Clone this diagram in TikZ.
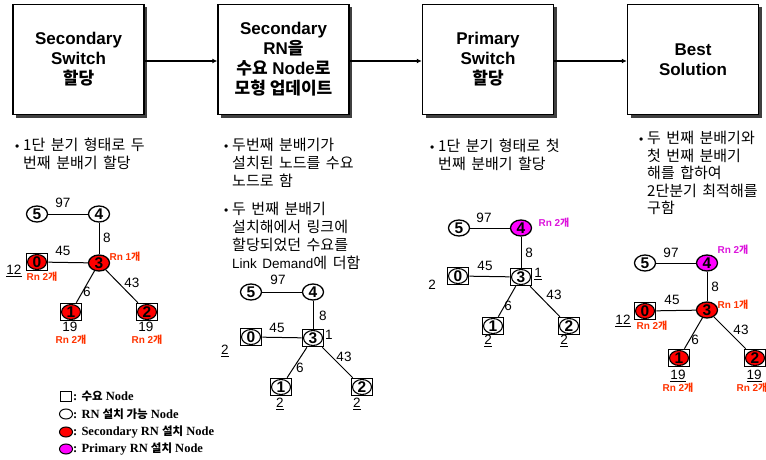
\documentclass[tikz,border=0pt]{standalone}
\usepackage{fontspec}
\setmainfont{Liberation Sans}
\newfontfamily\kr{Noto Sans CJK KR}
\newfontfamily\ser{Liberation Serif}
\usetikzlibrary{shapes.geometric,arrows.meta,shadows}
\newcommand\K[1]{{\kr #1}}
\newcommand\Bul{\makebox[8pt][l]{\rmfamily\fontsize{12}{12}\selectfont •}}
\newcommand\widesp{\spaceskip 5.5pt\relax}
\newcommand\btfont{\kr\fontsize{15}{18}\selectfont\widesp}
\newcommand\btfontb{\kr\fontsize{15}{17.5}\selectfont\widesp}
\definecolor{rnred}{RGB}{255,51,0}
\definecolor{rnmag}{RGB}{220,20,220}
\definecolor{pmag}{RGB}{255,0,255}
\begin{document}
\begin{tikzpicture}[x=1pt,y=-1pt,
  box/.style={draw, line width=1.5pt, fill=white, minimum width=131pt, minimum height=110pt, inner sep=0pt, align=center,
    font=\bfseries\fontsize{17}{20}\selectfont,
    drop shadow={shadow xshift=3pt, shadow yshift=-3pt, fill=black!75, opacity=1}},
  arr/.style={line width=1.5pt, -{Latex[length=5pt,width=5pt]}},
  el/.style={ellipse, draw, line width=1.3pt, minimum width=21pt, minimum height=16pt, inner sep=0pt,
    text height=10pt, text depth=0pt, font=\bfseries\fontsize{15.5}{15.5}\selectfont},
  eli/.style={el, minimum width=19pt, minimum height=15pt, line width=1.1pt},
  sq/.style={rectangle, draw, line width=1.6pt, minimum width=21pt, minimum height=17pt, inner sep=0pt},
  edge/.style={line width=1pt},
  lab/.style={inner sep=0pt, font=\fontsize{13.5}{13.5}\selectfont},
  rn/.style={inner sep=0pt, text=rnred, font=\bfseries\fontsize{10}{10}\selectfont},
  rnm/.style={rn, text=rnmag},
  btxt/.style={anchor=north west, align=left, inner sep=0pt, font=\btfont},
  legt/.style={anchor=west, inner sep=0pt, font=\ser\bfseries\fontsize{12.5}{12.5}\selectfont},
  lgs/.style={draw, line width=1pt, inner sep=0pt}
]
\useasboundingbox (0,0) rectangle (766,460);

% ---------- top boxes ----------
\node[box] (b1) at (78.5,59.5) {Secondary\\Switch\\\K{할당}};
\node[box] (b2) at (283.5,59.5) {Secondary\\RN\K{을}\\\K{수요} Node\K{로}\\\K{모형 업데이트}};
\node[box] (b3) at (488,59.5) {Primary\\Switch\\\K{할당}};
\node[box] (b4) at (693,59.5) {Best\\Solution};
\draw[arr] ([yshift=-1.5pt]b1.east) -- ([yshift=-1.5pt]b2.west);
\draw[arr] ([yshift=-1.5pt]b2.east) -- ([yshift=-1.5pt]b3.west);
\draw[arr] ([yshift=-1.5pt]b3.east) -- ([yshift=-1.5pt]b4.west);

% ---------- bullet texts ----------
\node[btxt] (t1) at (15,138) {\Bul 1단 분기 형태로 두\\\hspace*{8pt}번째 분배기 할당};
\node[btxt] (t2) at (224,138) {\Bul 두번째 분배기가\\\hspace*{8pt}설치된 노드를 수요\\\hspace*{8pt}노드로 함};
\node[btxt] (t3) at (224,202) {\Bul 두 번째 분배기\\\hspace*{8pt}설치해에서 링크에\\\hspace*{8pt}할당되었던 수요를\\\hspace*{8pt}{\rmfamily\fontsize{13.5}{18}\selectfont Link Demand}에 더함};
\node[btxt] (t4) at (430,139) {\Bul 1단 분기 형태로 첫\\\hspace*{8pt}번째 분배기 할당};
\node[btxt, font=\btfontb] (t5) at (639,131) {\Bul 두 번째 분배기와\\\hspace*{8pt}첫 번째 분배기\\\hspace*{8pt}해를 합하여\\\hspace*{8pt}2단분기 최적해를\\\hspace*{8pt}구함};

% ---------- panel 1 ----------
\node[el] (a5) at (37,214) {5};
\node[el] (a4) at (99,214) {4};
\node[el, fill=red] (a3) at (99,263) {3};
\node[sq] (a0) at (37,262) {};
\node[sq] (a1) at (71,312) {};
\node[sq] (a2) at (147,312) {};
\draw[edge] (a5) -- (a4);
\draw[edge] (a4) -- (a3);
\draw[edge] (a0) -- (a3);
\draw[edge] (a3) -- (a1);
\draw[edge] (a3) -- (a2);
\node[eli, fill=red] (a0e) at (a0) {0};
\node[eli, fill=red] (a1e) at (a1) {1};
\node[eli, fill=red] (a2e) at (a2) {2};
\node[lab] (a97) at (63,203) {97};
\node[lab] (a8) at (107,238) {8};
\node[lab] (a45) at (63,251) {45};
\node[lab] (a6) at (87,292) {6};
\node[lab] (a43) at (132,283) {43};
\node[rn] (ar3) at (125,257) {Rn 1\K{개}};
\node[lab] (ad0) at (14,271) {\underline{12}};
\node[rn] (ar0) at (42,277) {Rn 2\K{개}};
\node[lab] (ad1) at (70,327) {19};
\node[lab] (ad2) at (146,327) {19};
\node[rn] (ar1) at (71,340) {Rn 2\K{개}};
\node[rn] (ar2) at (147,340) {Rn 2\K{개}};

% ---------- panel 2 ----------
\node[el] (p5) at (251,292) {5};
\node[el] (p4) at (313,292) {4};
\node[sq] (p3) at (313,338) {};
\node[sq] (p0) at (251,337) {};
\node[sq] (p1) at (281,387) {};
\node[sq] (p2) at (362,387) {};
\draw[edge] (p5) -- (p4);
\draw[edge] (p4) -- (p3);
\draw[edge] (p0) -- (p3);
\draw[edge] (p3) -- (p1);
\draw[edge] (p3) -- (p2);
\node[eli, fill=white] (p3e) at (p3) {3};
\node[eli, fill=white] (p0e) at (p0) {0};
\node[eli, fill=white] (p1e) at (p1) {1};
\node[eli, fill=white] (p2e) at (p2) {2};
\node[lab] (p97) at (278,280) {97};
\node[lab] (p8) at (323,316) {8};
\node[lab] (p45) at (277,328) {45};
\node[lab] (p1l) at (329,335) {1};
\node[lab] (pd0) at (225,351) {\underline{2}};
\node[lab] (p6) at (300,368) {6};
\node[lab] (p43) at (344,357) {43};
\node[lab] (pd1) at (280,404) {\underline{2}};
\node[lab] (pd2) at (357,404) {\underline{2}};

% ---------- panel 3 ----------
\node[el] (c5) at (459,228) {5};
\node[el, fill=pmag] (c4) at (521,228) {4};
\node[sq] (c3) at (521,277) {};
\node[sq] (c0) at (458,276) {};
\node[sq] (c1) at (493,326) {};
\node[sq] (c2) at (569,326) {};
\draw[edge] (c5) -- (c4);
\draw[edge] (c4) -- (c3);
\draw[edge] (c0) -- (c3);
\draw[edge] (c3) -- (c1);
\draw[edge] (c3) -- (c2);
\node[eli, fill=white] (c3e) at (c3) {3};
\node[eli, fill=white] (c0e) at (c0) {0};
\node[eli, fill=white] (c1e) at (c1) {1};
\node[eli, fill=white] (c2e) at (c2) {2};
\node[lab] (c97) at (484,218) {97};
\node[rnm] (cr4) at (554,223) {Rn 2\K{개}};
\node[lab] (c8) at (529,253) {8};
\node[lab] (c45) at (485,266) {45};
\node[lab] (c1l) at (538,274) {\underline{1}};
\node[lab] (cd0) at (432,285) {2};
\node[lab] (c6) at (508,306) {6};
\node[lab] (c43) at (554,295) {43};
\node[lab] (cd1) at (488,341) {\underline{2}};
\node[lab] (cd2) at (564,341) {\underline{2}};

% ---------- panel 4 ----------
\node[el] (d5) at (645,263) {5};
\node[el, fill=pmag] (d4) at (707,263) {4};
\node[el, fill=red] (d3) at (707,310) {3};
\node[sq] (d0) at (645,311) {};
\node[sq] (d1) at (679,358) {};
\node[sq] (d2) at (755,358) {};
\draw[edge] (d5) -- (d4);
\draw[edge] (d4) -- (d3);
\draw[edge] (d0) -- (d3);
\draw[edge] (d3) -- (d1);
\draw[edge] (d3) -- (d2);
\node[eli, fill=red] (d0e) at (d0) {0};
\node[eli, fill=red] (d1e) at (d1) {1};
\node[eli, fill=red] (d2e) at (d2) {2};
\node[lab] (d97) at (671,253) {97};
\node[rnm] (dr4) at (733,250) {Rn 2\K{개}};
\node[lab] (d8) at (715,287) {8};
\node[rn] (dr3) at (733,305) {Rn 1\K{개}};
\node[lab] (d45) at (672,300) {45};
\node[lab] (dd0) at (623,321) {\underline{12}};
\node[rn] (dr0) at (652,326) {Rn 2\K{개}};
\node[lab] (d6) at (695,340) {6};
\node[lab] (d43) at (741,330) {43};
\node[lab] (dd1) at (678,376) {\underline{19}};
\node[lab] (dd2) at (754,376) {\underline{19}};
\node[rn] (dr1) at (678,388) {Rn 2\K{개}};
\node[rn] (dr2) at (752,388) {Rn 2\K{개}};

% ---------- legend ----------
\node[lgs, rectangle, minimum width=11pt, minimum height=10pt] (lg1) at (66,396) {};
\node[lgs, ellipse, minimum width=13pt, minimum height=10pt] (lg2) at (66,414) {};
\node[lgs, ellipse, minimum width=13pt, minimum height=10pt, fill=red] (lg3) at (66,432) {};
\node[lgs, ellipse, minimum width=13pt, minimum height=10pt, fill=pmag] (lg4) at (66,449) {};
\node[legt] (lt1) at (73,396) {: {\kr\fontsize{11.5}{11.5}\selectfont 수요} Node};
\node[legt] (lt2) at (73,414) {: RN {\kr\fontsize{11.5}{11.5}\selectfont 설치 가능} Node};
\node[legt] (lt3) at (73,432) {: Secondary RN {\kr\fontsize{11.5}{11.5}\selectfont 설치} Node};
\node[legt] (lt4) at (73,449) {: Primary RN {\kr\fontsize{11.5}{11.5}\selectfont 설치} Node};
\end{tikzpicture}
\end{document}
